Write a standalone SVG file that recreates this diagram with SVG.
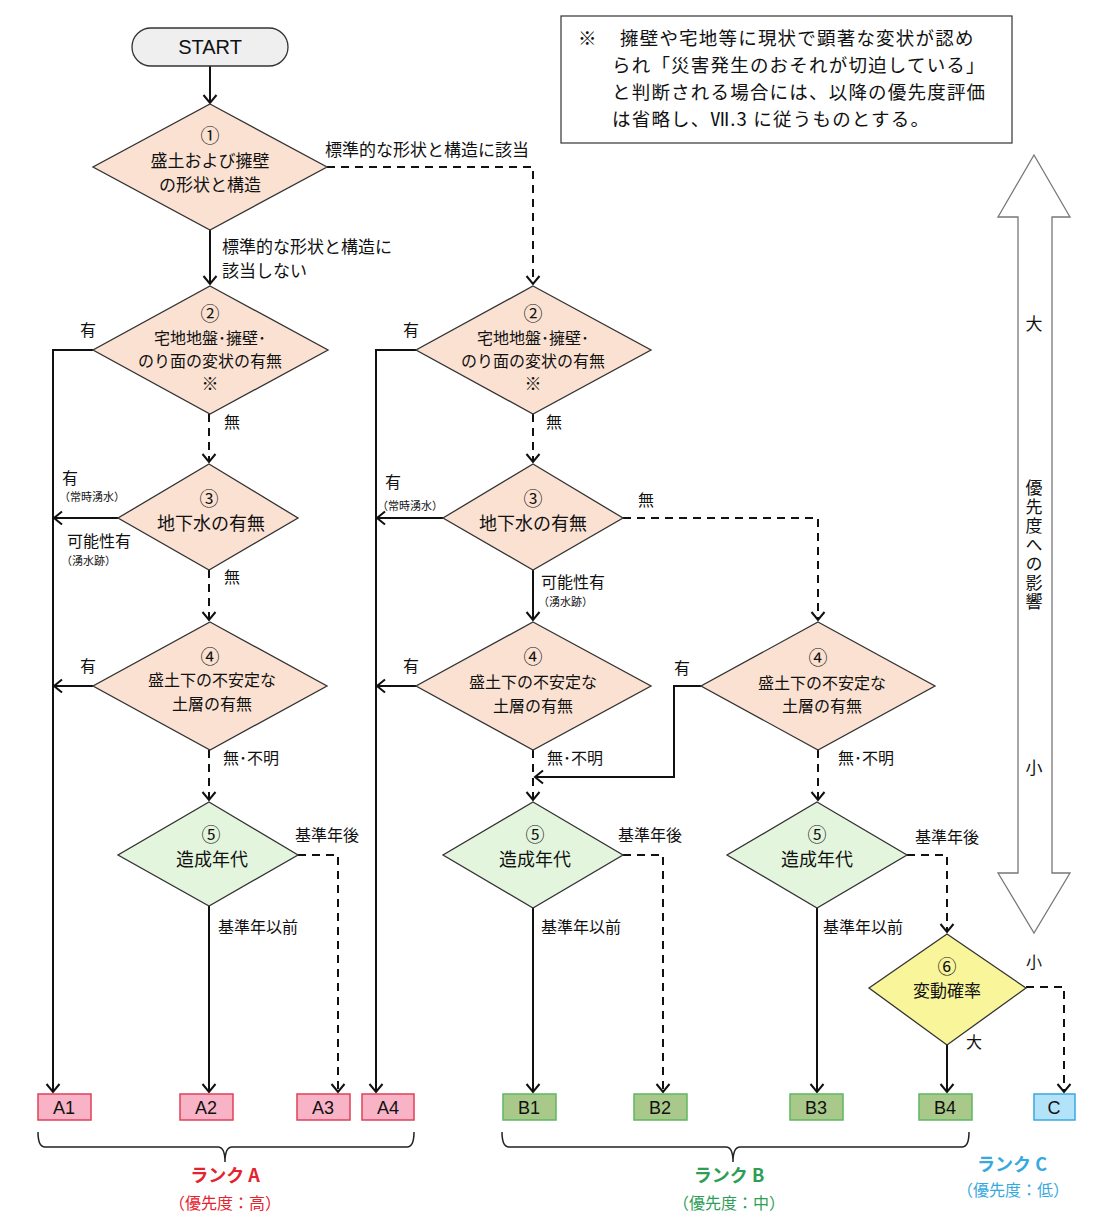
<svg xmlns="http://www.w3.org/2000/svg" width="1116" height="1230" viewBox="0 0 1116 1230">
<defs>
<marker id="ah" viewBox="-10 -8 12 16" refX="0" refY="0" markerWidth="12" markerHeight="16" markerUnits="userSpaceOnUse" orient="auto">
<path d="M-8,-6.5 L0,0 L-8,6.5" fill="none" stroke="#111" stroke-width="2"/>
</marker>
<style>
text{font-family:"Noto Sans CJK JP","Noto Sans",sans-serif;fill:#111}
.dt{font-size:17px;text-anchor:middle}
.nt{font-size:18.5px;letter-spacing:1.2px}
.lb{font-size:16px}
.sm{font-size:11px}
.pe{fill:#fbe1d2;stroke:#333;stroke-width:1.3}
.gr{fill:#e3f5dd;stroke:#333;stroke-width:1.3}
.ye{fill:#f8f59a;stroke:#333;stroke-width:1.3}
.c{fill:none;stroke:#111;stroke-width:2;marker-end:url(#ah)}
.d{stroke-dasharray:8 6}
.bx{font-family:"Liberation Sans",Arial,sans-serif;font-size:18px;text-anchor:middle}
.ra{fill:#f8b4c6;stroke:#e0405a;stroke-width:1.5}
.rb{fill:#a9c98a;stroke:#5cb860;stroke-width:1.5}
.rc{fill:#b2e3f8;stroke:#3aa8e0;stroke-width:1.5}
.br{fill:none;stroke:#222;stroke-width:1.5}
</style>
</defs>
<rect width="1116" height="1230" fill="#fff"/>

<g id="note">
<rect x="561" y="16" width="451" height="127" fill="#fff" stroke="#333" stroke-width="1.2"/>
<text x="578" y="45" class="nt">※</text>
<text x="620" y="45" class="nt">擁壁や宅地等に現状で顕著な変状が認め</text>
<text x="612" y="72" class="nt">られ「災害発生のおそれが切迫している」</text>
<text x="612" y="99" class="nt">と判断される場合には、以降の優先度評価</text>
<text x="612" y="126" class="nt">は省略し、Ⅶ.3 に従うものとする。</text>
</g>

<g id="scale">
<polygon points="1034,155 1070,217 1052,217 1052,873 1070,873 1034,933 998,873 1018,873 1018,217 998,217" fill="#fff" stroke="#777" stroke-width="1.3"/>
<text x="1034" y="330" class="dt">大</text>
<text x="1034" y="479" style="writing-mode:vertical-rl;font-size:17px;letter-spacing:2px">優先度への影響</text>
<text x="1034" y="774" class="dt">小</text>
</g>

<g id="connectors">
<path class="c" d="M210,66 V103"/>
<path class="c d" d="M327,167 H533 V284"/>
<path class="c" d="M210,230 V284"/>
<path class="c" d="M93,350 H53 V1092"/>
<path class="c d" d="M209,414 V462"/>
<path class="c" d="M118,518 H54"/>
<path class="c d" d="M209,570 V620"/>
<path class="c" d="M93,686 H54"/>
<path class="c d" d="M209,750 V800"/>
<path class="c" d="M209,906 V1092"/>
<path class="c d" d="M298,855 H338 V1092"/>
<path class="c" d="M416,350 H376 V1092"/>
<path class="c d" d="M533,414 V462"/>
<path class="c" d="M443,518 H377"/>
<path class="c d" d="M623,518 H818 V620"/>
<path class="c" d="M533,570 V620"/>
<path class="c" d="M416,686 H377"/>
<path class="c d" d="M533,750 V800"/>
<path class="c" d="M701,686 H674 V777 H535"/>
<path class="c d" d="M818,750 V800"/>
<path class="c" d="M533,908 V1092"/>
<path class="c d" d="M623,855 H663 V1092"/>
<path class="c" d="M817,908 V1092"/>
<path class="c d" d="M907,855 H947 V932"/>
<path class="c" d="M947,1045 V1092"/>
<path class="c d" d="M1026,987 H1064 V1092"/>
</g>

<g id="labels">
<text x="325" y="156" style="font-size:17px">標準的な形状と構造に該当</text>
<text x="222" y="253" style="font-size:17px">標準的な形状と構造に</text>
<text x="222" y="277" style="font-size:17px">該当しない</text>
<text x="80" y="336" class="lb">有</text>
<text x="224" y="428" class="lb">無</text>
<text x="62" y="484" class="lb">有</text>
<text x="59" y="501" class="sm">（常時湧水）</text>
<text x="67" y="547" class="lb">可能性有</text>
<text x="61" y="565" class="sm">（湧水跡）</text>
<text x="224" y="583" class="lb">無</text>
<text x="80" y="672" class="lb">有</text>
<text x="223" y="764" class="lb">無･不明</text>
<text x="295" y="841" class="lb">基準年後</text>
<text x="218" y="933" class="lb">基準年以前</text>
<text x="403" y="336" class="lb">有</text>
<text x="546" y="428" class="lb">無</text>
<text x="385" y="488" class="lb">有</text>
<text x="377" y="510" class="sm">（常時湧水）</text>
<text x="638" y="506" class="lb">無</text>
<text x="541" y="588" class="lb">可能性有</text>
<text x="538" y="606" class="sm">（湧水跡）</text>
<text x="403" y="672" class="lb">有</text>
<text x="547" y="764" class="lb">無･不明</text>
<text x="674" y="674" class="lb">有</text>
<text x="838" y="764" class="lb">無･不明</text>
<text x="618" y="841" class="lb">基準年後</text>
<text x="541" y="933" class="lb">基準年以前</text>
<text x="915" y="843" class="lb">基準年後</text>
<text x="823" y="933" class="lb">基準年以前</text>
<text x="1026" y="968" class="lb">小</text>
<text x="966" y="1048" class="lb">大</text>
</g>

<g id="start">
<rect x="132" y="28" width="156" height="38" rx="19" fill="#efefef" stroke="#333" stroke-width="1.3"/>
<text x="210" y="54" style="font-family:'Liberation Sans',Arial,sans-serif;font-size:20px;text-anchor:middle">START</text>
</g>

<g id="q1">
<polygon class="pe" points="210,104 327,167 210,230 93,167"/>
<text class="dt" x="210" y="143" style="font-size:19px">①</text>
<text class="dt" x="210" y="167">盛土および擁壁</text>
<text class="dt" x="210" y="191">の形状と構造</text>
</g>

<g id="q2a">
<polygon class="pe" points="210,286 328,350 210,414 93,350"/>
<text class="dt" x="210" y="321" style="font-size:19px">②</text>
<text class="dt" x="210" y="344" style="font-size:16px">宅地地盤･擁壁･</text>
<text class="dt" x="210" y="367" style="font-size:16px">のり面の変状の有無</text>
<text class="dt" x="210" y="390">※</text>
</g>
<g id="q3a">
<polygon class="pe" points="209,464 298,518 209,570 118,518"/>
<text class="dt" x="209" y="506" style="font-size:19px">③</text>
<text class="dt" x="211" y="530" style="font-size:18px">地下水の有無</text>
</g>
<g id="q4a">
<polygon class="pe" points="210,622 327,686 210,750 93,686"/>
<text class="dt" x="210" y="664" style="font-size:19px">④</text>
<text class="dt" x="212" y="686" style="font-size:16px">盛土下の不安定な</text>
<text class="dt" x="212" y="710" style="font-size:16px">土層の有無</text>
</g>
<g id="q5a">
<polygon class="gr" points="209,802 298,855 209,906 118,855"/>
<text class="dt" x="211" y="842" style="font-size:19px">⑤</text>
<text class="dt" x="212" y="866" style="font-size:18px">造成年代</text>
</g>

<g id="q2b">
<polygon class="pe" points="533,286 651,350 533,414 416,350"/>
<text class="dt" x="533" y="321" style="font-size:19px">②</text>
<text class="dt" x="533" y="344" style="font-size:16px">宅地地盤･擁壁･</text>
<text class="dt" x="533" y="367" style="font-size:16px">のり面の変状の有無</text>
<text class="dt" x="533" y="390">※</text>
</g>
<g id="q3b">
<polygon class="pe" points="533,464 623,518 533,570 443,518"/>
<text class="dt" x="533" y="506" style="font-size:19px">③</text>
<text class="dt" x="533" y="530" style="font-size:18px">地下水の有無</text>
</g>
<g id="q4b">
<polygon class="pe" points="533,622 651,686 533,750 416,686"/>
<text class="dt" x="533" y="664" style="font-size:19px">④</text>
<text class="dt" x="533" y="688" style="font-size:16px">盛土下の不安定な</text>
<text class="dt" x="533" y="712" style="font-size:16px">土層の有無</text>
</g>
<g id="q4c">
<polygon class="pe" points="818,622 935,686 818,750 701,686"/>
<text class="dt" x="818" y="665" style="font-size:19px">④</text>
<text class="dt" x="822" y="689" style="font-size:16px">盛土下の不安定な</text>
<text class="dt" x="822" y="712" style="font-size:16px">土層の有無</text>
</g>
<g id="q5b">
<polygon class="gr" points="533,802 623,855 533,908 443,855"/>
<text class="dt" x="535" y="842" style="font-size:19px">⑤</text>
<text class="dt" x="535" y="866" style="font-size:18px">造成年代</text>
</g>
<g id="q5c">
<polygon class="gr" points="817,802 907,855 817,908 727,855"/>
<text class="dt" x="817" y="842" style="font-size:19px">⑤</text>
<text class="dt" x="817" y="866" style="font-size:18px">造成年代</text>
</g>
<g id="q6">
<polygon class="ye" points="947,934 1026,988 947,1045 869,988"/>
<text class="dt" x="947" y="974" style="font-size:19px">⑥</text>
<text class="dt" x="947" y="997">変動確率</text>
</g>

<g id="A1"><rect class="ra" x="38" y="1094" width="53" height="26"/><text class="bx" x="64" y="1114">A1</text></g>
<g id="A2"><rect class="ra" x="180" y="1094" width="53" height="26"/><text class="bx" x="206" y="1114">A2</text></g>
<g id="A3"><rect class="ra" x="297" y="1094" width="53" height="26"/><text class="bx" x="323" y="1114">A3</text></g>
<g id="A4"><rect class="ra" x="362" y="1094" width="52" height="26"/><text class="bx" x="388" y="1114">A4</text></g>
<g id="B1"><rect class="rb" x="503" y="1094" width="53" height="26"/><text class="bx" x="529" y="1114">B1</text></g>
<g id="B2"><rect class="rb" x="634" y="1094" width="53" height="26"/><text class="bx" x="660" y="1114">B2</text></g>
<g id="B3"><rect class="rb" x="790" y="1094" width="53" height="26"/><text class="bx" x="816" y="1114">B3</text></g>
<g id="B4"><rect class="rb" x="919" y="1094" width="53" height="26"/><text class="bx" x="945" y="1114">B4</text></g>
<g id="C"><rect class="rc" x="1034" y="1094" width="41" height="26"/><text class="bx" x="1054" y="1114">C</text></g>

<g id="rankA">
<path class="br" d="M38,1132 Q38,1147 45,1147 H218 Q225,1147 225,1162 Q225,1147 232,1147 H407 Q414,1147 414,1132"/>
<text x="225" y="1182" style="font-size:18px;font-weight:bold;text-anchor:middle;fill:#e5222e">ランク A</text>
<text x="225" y="1209" style="font-size:16px;text-anchor:middle;fill:#e5222e">（優先度：高）</text>
</g>
<g id="rankB">
<path class="br" d="M502,1132 Q502,1147 509,1147 H726 Q733,1147 733,1162 Q733,1147 740,1147 H962 Q969,1147 969,1132"/>
<text x="729" y="1182" style="font-size:18px;font-weight:bold;text-anchor:middle;fill:#2e9e56">ランク B</text>
<text x="729" y="1209" style="font-size:16px;text-anchor:middle;fill:#2e9e56">（優先度：中）</text>
</g>
<g id="rankC">
<text x="1012" y="1171" style="font-size:18px;font-weight:bold;text-anchor:middle;fill:#35a9e0">ランク C</text>
<text x="1013" y="1196" style="font-size:16px;text-anchor:middle;fill:#35a9e0">（優先度：低）</text>
</g>
</svg>
